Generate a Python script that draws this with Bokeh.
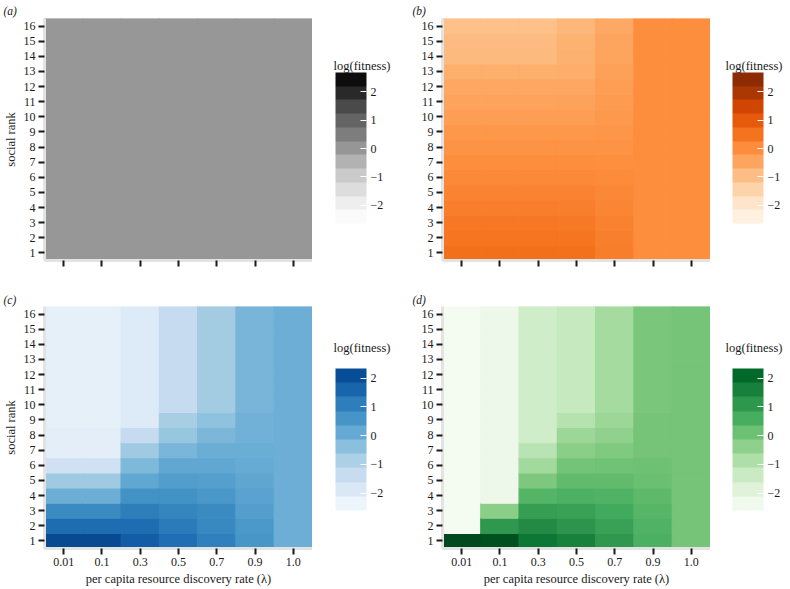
import numpy as np
from bokeh.plotting import figure
from bokeh.models import (ColumnDataSource, LinearColorMapper, ColorBar, FixedTicker,
                          Label, Range1d)
from bokeh.layouts import gridplot
from bokeh.embed import file_html
from bokeh.resources import INLINE

# ---------------- data ----------------
rates = ["0.01", "0.1", "0.3", "0.5", "0.7", "0.9", "1.0"]
ranks = ["1", "2", "3", "4", "5", "6", "7", "8", "9", "10", "11", "12", "13", "14", "15", "16"]

# log(fitness) per rate column, listed for social rank 1 ... 16
panel_a = [
    [0.0, 0.0, 0.0, 0.0, 0.0, 0.0, 0.0, 0.0, 0.0, 0.0, 0.0, 0.0, 0.0, 0.0, 0.0, 0.0],
    [0.0, 0.0, 0.0, 0.0, 0.0, 0.0, 0.0, 0.0, 0.0, 0.0, 0.0, 0.0, 0.0, 0.0, 0.0, 0.0],
    [0.0, 0.0, 0.0, 0.0, 0.0, 0.0, 0.0, 0.0, 0.0, 0.0, 0.0, 0.0, 0.0, 0.0, 0.0, 0.0],
    [0.0, 0.0, 0.0, 0.0, 0.0, 0.0, 0.0, 0.0, 0.0, 0.0, 0.0, 0.0, 0.0, 0.0, 0.0, 0.0],
    [0.0, 0.0, 0.0, 0.0, 0.0, 0.0, 0.0, 0.0, 0.0, 0.0, 0.0, 0.0, 0.0, 0.0, 0.0, 0.0],
    [0.0, 0.0, 0.0, 0.0, 0.0, 0.0, 0.0, 0.0, 0.0, 0.0, 0.0, 0.0, 0.0, 0.0, 0.0, 0.0],
    [0.0, 0.0, 0.0, 0.0, 0.0, 0.0, 0.0, 0.0, 0.0, 0.0, 0.0, 0.0, 0.0, 0.0, 0.0, 0.0],
]
panel_b = [
    [0.55, 0.47, 0.40, 0.30, 0.20, 0.10, 0.00, -0.10, -0.20, -0.33, -0.42, -0.51, -0.65, -0.88, -0.91, -1.01],
    [0.55, 0.47, 0.40, 0.30, 0.20, 0.10, 0.00, -0.10, -0.20, -0.33, -0.42, -0.51, -0.65, -0.88, -0.91, -1.01],
    [0.55, 0.47, 0.40, 0.30, 0.20, 0.10, 0.00, -0.10, -0.20, -0.33, -0.42, -0.51, -0.65, -0.88, -0.91, -1.01],
    [0.52, 0.46, 0.39, 0.29, 0.19, 0.10, 0.00, -0.10, -0.20, -0.32, -0.41, -0.50, -0.63, -0.70, -0.72, -0.82],
    [0.30, 0.27, 0.22, 0.18, 0.12, 0.05, -0.02, -0.10, -0.15, -0.22, -0.28, -0.33, -0.38, -0.45, -0.46, -0.55],
    [0.0, 0.0, 0.0, 0.0, 0.0, 0.0, 0.0, 0.0, 0.0, 0.0, 0.0, 0.0, 0.0, 0.0, 0.0, 0.0],
    [0.0, 0.0, 0.0, 0.0, 0.0, 0.0, 0.0, 0.0, 0.0, 0.0, 0.0, 0.0, 0.0, 0.0, 0.0, 0.0],
]
panel_c = [
    [2.15, 1.42, 0.82, 0.00, -0.65, -1.54, -2.10, -2.10, -2.17, -2.17, -2.17, -2.17, -2.17, -2.17, -2.17, -2.17],
    [2.15, 1.42, 0.82, 0.00, -0.65, -1.54, -2.10, -2.10, -2.17, -2.17, -2.17, -2.17, -2.17, -2.17, -2.17, -2.17],
    [1.75, 1.42, 1.08, 0.68, 0.20, -0.25, -0.66, -1.31, -1.94, -1.94, -1.94, -1.94, -1.94, -1.94, -1.94, -1.94],
    [1.38, 1.15, 0.95, 0.68, 0.42, 0.17, -0.18, -0.55, -0.81, -1.31, -1.31, -1.31, -1.31, -1.31, -1.31, -1.31],
    [1.05, 0.88, 0.82, 0.55, 0.39, 0.19, 0.02, -0.20, -0.45, -0.71, -0.71, -0.71, -0.71, -0.71, -0.71, -0.71],
    [0.60, 0.52, 0.40, 0.30, 0.22, 0.10, 0.02, -0.05, -0.05, -0.15, -0.15, -0.15, -0.15, -0.15, -0.15, -0.15],
    [0.0, 0.0, 0.0, 0.0, 0.0, 0.0, 0.0, 0.0, 0.0, 0.0, 0.0, 0.0, 0.0, 0.0, 0.0, 0.0],
]
panel_d = [
    [2.60, -2.50, -2.50, -2.50, -2.50, -2.50, -2.50, -2.50, -2.50, -2.50, -2.50, -2.50, -2.50, -2.50, -2.50, -2.50],
    [2.48, 1.08, -0.31, -2.27, -2.27, -2.27, -2.27, -2.27, -2.27, -2.27, -2.27, -2.27, -2.27, -2.27, -2.27, -2.27],
    [1.75, 1.35, 0.95, 0.42, -0.12, -0.65, -1.04, -1.51, -1.51, -1.51, -1.51, -1.51, -1.51, -1.51, -1.51, -1.51],
    [1.55, 1.15, 0.88, 0.52, 0.25, 0.02, -0.31, -0.58, -1.01, -1.31, -1.31, -1.31, -1.31, -1.31, -1.31, -1.31],
    [1.08, 0.88, 0.70, 0.48, 0.25, 0.08, -0.15, -0.38, -0.58, -0.71, -0.71, -0.71, -0.71, -0.71, -0.71, -0.71],
    [0.55, 0.48, 0.40, 0.30, 0.15, 0.10, 0.00, 0.00, 0.00, -0.08, -0.08, -0.08, -0.08, -0.08, -0.08, -0.08],
    [0.0, 0.0, 0.0, 0.0, 0.0, 0.0, 0.0, 0.0, 0.0, 0.0, 0.0, 0.0, 0.0, 0.0, 0.0, 0.0],
]

cbar_ticks = [-2, -1, 0, 1, 2]
panel_tags = ["(a)", "(b)", "(c)", "(d)"]
legend_title = "log(fitness)"
x_title = "per capita resource discovery rate (\u03bb)"
y_title = "social rank"

# ---------------- colours ----------------
GREYS = ["#ffffff", "#f0f0f0", "#d9d9d9", "#bdbdbd", "#969696", "#737373", "#525252", "#252525", "#000000"]
ORANGES = ["#fff5eb", "#fee6ce", "#fdd0a2", "#fdae6b", "#fd8d3c", "#f16913", "#d94801", "#a63603", "#7f2704"]
BLUES = ["#f7fbff", "#deebf7", "#c6dbef", "#9ecae1", "#6baed6", "#4292c6", "#2171b5", "#08519c", "#08306b"]
GREENS = ["#f7fcf5", "#e5f5e0", "#c7e9c0", "#a1d99b", "#74c476", "#41ab5d", "#238b45", "#006d2c", "#00441b"]

LOW, HIGH = -2.64, 2.68


def _rgb(hexes):
    return np.array([[int(h[i:i + 2], 16) for i in (1, 3, 5)] for h in hexes], float)


def sample(hexes, t):
    rgb = _rgb(hexes)
    xs = np.linspace(0, 1, len(hexes))
    out = np.stack([np.interp(t, xs, rgb[:, k]) for k in range(3)], 1)
    return ["#%02x%02x%02x" % tuple(int(round(c)) for c in row) for row in out]


def smooth(hexes):
    return sample(hexes, np.linspace(0, 1, 256))


def banded(hexes, blo, bhi, nb):
    centers = blo + (np.arange(nb) + 0.5) * (bhi - blo) / nb
    return sample(hexes, (centers - LOW) / (HIGH - LOW))


SERIF = "Liberation Serif"
TXT = "#1a1a1a"
AXIS_GREY = "#e3e3e3"

TOP_H, BOT_H = 290, 299
TOP_FH, BOT_FH = 242, 243


def make_heatmap(values, hexes, tag, top, left):
    xs, ys, vs = [], [], []
    for ci, col in enumerate(values):
        for ri, v in enumerate(col):
            xs.append(rates[ci])
            ys.append(ranks[ri])
            vs.append(v)
    src = ColumnDataSource(dict(x=xs, y=ys, v=vs))
    mapper = LinearColorMapper(palette=smooth(hexes), low=LOW, high=HIGH)

    bl, fw = (43, 269) if left else (42, 268)
    if top:
        h, bt, bb = TOP_H, 18, 30
    else:
        h, bt, bb = BOT_H, 15, 41

    p = figure(x_range=rates, y_range=ranks, width=bl + fw, height=h,
               output_backend="svg", toolbar_location=None,
               min_border_left=bl, min_border_right=0,
               min_border_top=bt, min_border_bottom=bb)
    p.rect(x="x", y="y", width=1, height=1, source=src,
           fill_color={"field": "v", "transform": mapper},
           line_color={"field": "v", "transform": mapper}, line_width=1.2)

    p.outline_line_color = None
    p.grid.grid_line_color = None
    p.background_fill_color = "white"
    p.x_range.range_padding = 0
    p.y_range.range_padding = 0

    for ax in (p.xaxis[0], p.yaxis[0]):
        ax.axis_line_color = AXIS_GREY
        ax.axis_line_width = 3
        ax.major_tick_line_color = TXT
        ax.major_tick_line_width = 2
        ax.major_tick_in = 0
        ax.major_tick_out = 6
        ax.minor_tick_line_color = None
        ax.major_label_text_font = SERIF
        ax.major_label_text_font_size = "12px"
        ax.major_label_text_color = TXT
        ax.major_label_standoff = 3
        ax.axis_label_text_font = SERIF
        ax.axis_label_text_font_size = "12.5px"
        ax.axis_label_text_font_style = "normal"
        ax.axis_label_text_color = TXT
        ax.axis_label_standoff = 3

    p.yaxis.major_tick_out = 6
    p.yaxis.major_label_standoff = 3
    if left:
        p.yaxis.axis_label = y_title
        p.yaxis.axis_label_standoff = 3
        p.yaxis.axis_label_text_font_size = "12.5px"
    if top:
        p.xaxis.major_label_text_color = None
        p.xaxis.major_label_standoff = 0
    else:
        p.xaxis.axis_label = x_title

    # panel tag, left of the frame's top-left corner
    p.title.text = tag
    p.title.text_font = SERIF
    p.title.text_font_style = "italic"
    p.title.text_font_size = "11.5px"
    p.title.text_color = TXT
    p.title.align = "left"
    p.title.offset = -41 if left else -30
    p.title.standoff = 4 if top else 2
    return p


def make_legend(hexes, top, left):
    # the grid aligns this figure's frame with the heatmap frame of the same row,
    # so its ranges are expressed in pixels from the frame's bottom-left corner
    w = 88 if left else 80
    fh = TOP_FH if top else BOT_FH
    h = TOP_H if top else BOT_H
    p = figure(width=w, height=h, x_range=Range1d(0, w), y_range=Range1d(0, fh),
               output_backend="svg", toolbar_location=None,
               min_border=0, min_border_left=0, min_border_right=0)
    p.xaxis.visible = False
    p.yaxis.visible = False
    p.grid.visible = False
    p.outline_line_color = None

    if top:
        blo, bhi, nb, bar_h, bar_y, title_y = -2.64, 2.68, 11, 151, 37, 195
    else:
        blo, bhi, nb, bar_h, bar_y, title_y = -2.60, 2.33, 10, 142, 38, 201
    bar_x = 23 if left else 22
    cmap = LinearColorMapper(palette=banded(hexes, blo, bhi, nb), low=blo, high=bhi)
    cb = ColorBar(color_mapper=cmap, ticker=FixedTicker(ticks=cbar_ticks),
                  major_label_overrides={-2: "\u22122", -1: "\u22121"},
                  width=31, height=bar_h, title=None,
                  major_label_text_font=SERIF, major_label_text_font_size="12px",
                  major_label_text_color=TXT, label_standoff=4,
                  major_tick_line_color="white", major_tick_line_width=1,
                  major_tick_in=6, major_tick_out=0,
                  bar_line_color=None, border_line_color=None,
                  background_fill_color=None, padding=0, margin=0,
                  location=(bar_x, bar_y))
    p.add_layout(cb, "center")
    p.add_layout(Label(x=21 if left else 15, y=title_y, text=legend_title,
                       text_font=SERIF, text_font_size="12.5px", text_color=TXT,
                       text_baseline="alphabetic", text_align="left"))
    return p


pa = make_heatmap(panel_a, GREYS, panel_tags[0], True, True)
pb = make_heatmap(panel_b, ORANGES, panel_tags[1], True, False)
pc = make_heatmap(panel_c, BLUES, panel_tags[2], False, True)
pd = make_heatmap(panel_d, GREENS, panel_tags[3], False, False)
la = make_legend(GREYS, True, True)
lb = make_legend(ORANGES, True, False)
lc = make_legend(BLUES, False, True)
ld = make_legend(GREENS, False, False)

grid = gridplot([[pa, la, pb, lb], [pc, lc, pd, ld]], toolbar_location=None)

open("out.html", "w").write(file_html(grid, INLINE))
